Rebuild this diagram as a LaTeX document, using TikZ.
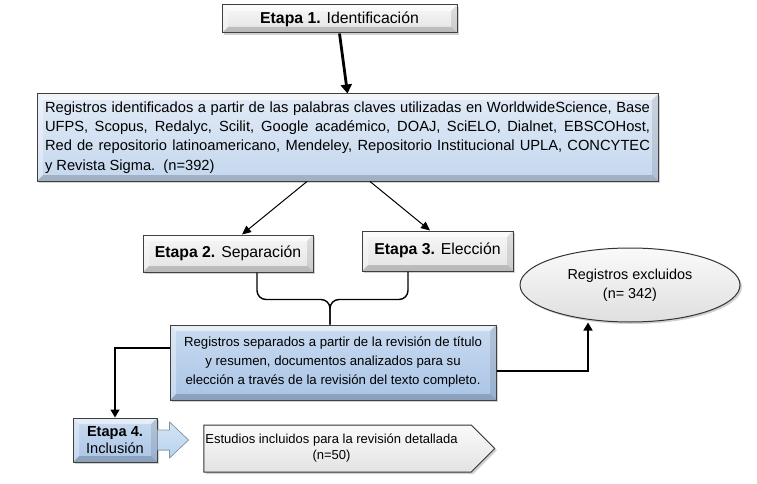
\documentclass[tikz,border=0pt]{standalone}
\usepackage{fontspec}
\setmainfont{Liberation Sans}
\usetikzlibrary{shapes.geometric,shapes.symbols,arrows.meta,calc,shadows}
\definecolor{bluetop}{HTML}{E2EBF6}
\definecolor{bluebot}{HTML}{C4D7EE}
\definecolor{blue2top}{HTML}{C9DBF0}
\definecolor{blue2bot}{HTML}{A9C4E6}
\definecolor{arrowblue}{HTML}{B8D3EE}
\begin{document}
\begin{tikzpicture}[x=1pt,y=-1pt,
  bevel/.style={path picture={
    \coordinate (bvNW) at (path picture bounding box.north west);
    \coordinate (bvSE) at (path picture bounding box.south east);
    \coordinate (bvNE) at (bvSE |- bvNW);
    \coordinate (bvSW) at (bvNW |- bvSE);
    \fill[white,opacity=0.55] (bvNW) -- (bvNE) -- ($(bvNE)+(-6pt,-6pt)$) -- ($(bvNW)+(6pt,-6pt)$) -- cycle;
    \fill[white,opacity=0.35] (bvNW) -- (bvSW) -- ($(bvSW)+(6pt,6pt)$) -- ($(bvNW)+(6pt,-6pt)$) -- cycle;
    \fill[black,opacity=0.18] (bvSW) -- (bvSE) -- ($(bvSE)+(-6pt,6pt)$) -- ($(bvSW)+(6pt,6pt)$) -- cycle;
    \fill[black,opacity=0.10] (bvNE) -- (bvSE) -- ($(bvSE)+(-6pt,6pt)$) -- ($(bvNE)+(-6pt,-6pt)$) -- cycle;
  }},
  boxbase/.style={draw=black!75, line width=1pt, inner sep=0pt, bevel,
    drop shadow={opacity=0.35, shadow xshift=2pt, shadow yshift=-2pt}},
  graybox/.style={boxbase, top color=gray!6, bottom color=gray!22,
    font=\fontsize{15.8}{19}\selectfont},
  bluebox/.style={boxbase, top color=bluetop, bottom color=bluebot},
  blue2box/.style={boxbase, top color=blue2top, bottom color=blue2bot},
  conn/.style={line width=1.6pt, draw=black},
  arr/.style={line width=1pt, -{Triangle[length=9pt,width=8pt]}},
  arrk/.style={conn, -{Triangle[length=8pt,width=9pt]}}
]
\fill[white] (0,0) rectangle (757,484);
\useasboundingbox (0,0) rectangle (757,484);

% Stage 1
\node[graybox, minimum width=235pt, minimum height=28pt] (e1) at (339.5,19)
  {\textbf{Etapa 1.} Identificación};

% Big box 1
\node[bluebox, minimum width=621pt, minimum height=87pt, text width=605pt,
  align=justify, font=\fontsize{14.7}{19.2}\selectfont] (b1) at (347.5,137.5)
  {Registros identificados a partir de las palabras claves utilizadas en WorldwideScience, Base\linebreak
   UFPS, Scopus, Redalyc, Scilit, Google académico, DOAJ, SciELO, Dialnet, EBSCOHost,\linebreak
   Red de repositorio latinoamericano, Mendeley, Repositorio Institucional UPLA, CONCYTEC\linebreak
   y Revista Sigma.\ \ (n=392)};

\draw[line width=2.8pt, -{Triangle[length=9pt,width=11pt]}] (e1.south) -- (b1.north);

% Stage 2 and 3
\node[graybox, minimum width=170pt, minimum height=37pt] (e2) at (228,253.5)
  {\textbf{Etapa 2.} Separación};
\node[graybox, minimum width=151pt, minimum height=40pt] (e3) at (437.5,251)
  {\raisebox{4pt}{\textbf{Etapa 3.} Elección}};

\draw[arr] ([xshift=-40.5pt]b1.south) -- ([xshift=14pt]e2.north);
\draw[arr] ([xshift=22.5pt]b1.south) -- ([xshift=-7.5pt]e3.north);

% Box 2
\node[blue2box, minimum width=326pt, minimum height=75pt, align=center,
  font=\fontsize{13.2}{19}\selectfont] (b2) at (333,362.5)
  {Registros separados a partir de la revisión de título\\
   y resumen, documentos analizados para su\\
   elección a través de la revisión del texto completo.};

% Brace joining stages 2 and 3
\coordinate (join) at ($(b2.north)+(-3,-25)$);
\coordinate (joinb) at ($(b2.north)+(-3,0)$);
\draw[conn, line width=1.4pt, rounded corners=9pt] ([xshift=29pt]e2.south) |- (join) -- (joinb);
\draw[conn, line width=1.4pt, rounded corners=9pt] ([xshift=-29.5pt]e3.south) |- (join) -- (joinb);

% Excluded ellipse
\node[ellipse, draw=black!80, line width=1pt, top color=gray!4, bottom color=gray!25,
  minimum width=220pt, minimum height=74pt, align=center, inner sep=0pt,
  drop shadow={opacity=0.35, shadow xshift=2pt, shadow yshift=-2pt},
  font=\fontsize{14.4}{19}\selectfont] (ex) at (630,285)
  {\raisebox{4pt}{\begin{tabular}{@{}c@{}}Registros excluidos\\(n= 342)\end{tabular}}};

\draw[arrk] ([yshift=-8.5pt]b2.east) -| ([xshift=-42pt]ex.south);

% Stage 4
\node[blue2box, minimum width=84pt, minimum height=44pt, align=center,
  font=\fontsize{14.6}{17.5}\selectfont] (e4) at (115,440)
  {\textbf{Etapa 4.}\\Inclusión};

\draw[arrk] ([yshift=14.5pt]b2.west) -| (e4.north);

% Final box
\node[signal, signal to=east, signal pointer angle=90, draw=black!80, line width=1pt,
  top color=gray!4, bottom color=gray!22, minimum width=291pt, minimum height=47pt,
  inner sep=0pt, align=center, font=\fontsize{13}{16}\selectfont,
  drop shadow={opacity=0.35, shadow xshift=2pt, shadow yshift=-2pt}] (fin) at (337.5,448.5)
  {\hspace*{-12pt}\begin{tabular}{@{}c@{}}Estudios incluidos para la revisión detallada\\(n=50)\end{tabular}};

% Block arrow from stage 4 to final box
\coordinate (ba) at (e4.east);
\filldraw[draw=arrowblue!70!black, line width=0.6pt, top color=arrowblue!60, bottom color=arrowblue]
  ($(ba)+(0,-10)$) -- ($(ba)+(12,-10)$) -- ($(ba)+(12,-18)$) -- ($(ba)+(31,0)$)
  -- ($(ba)+(12,18)$) -- ($(ba)+(12,10)$) -- ($(ba)+(0,10)$) -- cycle;
\end{tikzpicture}
\end{document}
